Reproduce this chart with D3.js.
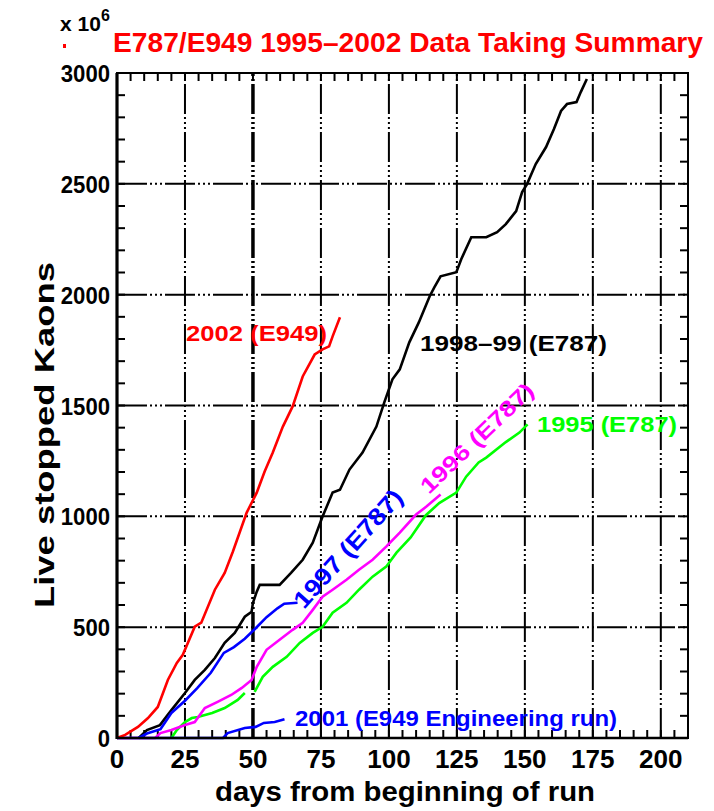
<!DOCTYPE html>
<html>
<head>
<meta charset="utf-8">
<script src="https://cdn.jsdelivr.net/npm/d3@7"></script>
<style>
  body { margin: 0; background: #fff; }
  svg { display: block; }
</style>
</head>
<body>
<svg id="chart" width="714" height="811"></svg>
<script>
// Cumulative live stopped kaons (units of 10^6) against days since the start of each run

const days2002 = [0, 3, 7.7, 11.4, 15, 18.7, 22, 24.2, 28.6, 31, 36, 39.6, 42.6, 47.7, 51.4, 54.3, 57.3, 61, 64.6, 68.3, 72.7, 75.6, 78, 79.3, 82];
const kaons2002 = [0, 14, 50, 90, 140, 262, 339, 375, 502, 520, 669, 745, 840, 1017, 1107, 1202, 1288, 1405, 1496, 1631, 1730, 1753, 1767, 1812, 1898];

const days1998 = [8, 11, 15.8, 20, 25, 28.6, 32.3, 36, 39.6, 43.3, 47, 49.5, 50, 51.4, 52.5, 59.8, 64, 68.3, 72, 75.6, 79.3, 82, 85.5, 90.3, 95.4, 98.3, 101.3, 104, 107.5, 111, 115, 116.7, 119, 124.8, 126.6, 130.3, 135.8, 139.8, 143, 146.8, 149, 150.8, 154, 157.8, 160.7, 163.3, 165.5, 169, 170.6, 172.8];
const kaons1998 = [0, 36, 58, 126, 203, 262, 307, 361, 429, 474, 547, 569, 610, 660, 691, 691, 745, 804, 881, 999, 1107, 1120, 1211, 1288, 1405, 1514, 1618, 1663, 1785, 1875, 1993, 2033, 2083, 2101, 2160, 2259, 2259, 2282, 2318, 2377, 2463, 2499, 2589, 2666, 2747, 2829, 2860, 2869, 2915, 2973];

const days1997 = [8, 11, 16, 20, 25, 29.5, 34.5, 39.3, 43, 47, 51, 55, 59, 61.5, 66.4];
const kaons1997 = [0, 20, 40, 113, 168, 225, 294, 384, 410, 448, 495, 545, 585, 606, 610];

const days1996 = [0, 14, 16, 20, 25, 28.6, 32.3, 37, 42, 45.9, 49.5, 51.4, 55, 59.8, 64.6, 68.3, 72, 75.6, 79.3, 84.4, 89, 94, 99, 104, 110, 113.8, 119];
const kaons1996 = [0, 0, 22, 36, 59, 72, 135, 163, 194, 226, 262, 321, 398, 443, 488, 520, 578, 637, 669, 714, 759, 804, 863, 926, 1008, 1044, 1098];

// null marks the short break in the 1995 record
const days1995 = [20, 22, 25, 27.5, 29.7, 35, 39.6, 44.4, 47, 48.8, 50.6, 53.6, 57.3, 62.4, 67.2, 72, 75.6, 79.3, 84.4, 89, 94, 99, 102.8, 108, 113.6, 118.5, 124.8, 128.4, 133, 135.8, 143, 148, 151];
const kaons1995 = [0, 36, 72, 90, 95, 113, 135, 172, 203, null, 208, 276, 321, 366, 429, 474, 502, 565, 610, 669, 728, 773, 836, 905, 1005, 1060, 1107, 1179, 1243, 1265, 1335, 1378, 1415];

const days2001 = [0, 39, 40.7, 47, 51, 54, 58, 61.6];
const kaons2001 = [0, 0, 22, 45, 50, 68, 72, 85];

const xTicks = [0, 25, 50, 75, 100, 125, 150, 175, 200];
const yTicks = [0, 500, 1000, 1500, 2000, 2500, 3000];

const svg = d3.select("#chart");
const plotL = 117, plotR = 688, plotT = 73, plotB = 738;

const x = d3.scaleLinear().domain([0, 210]).range([plotL, plotR]);
const y = d3.scaleLinear().domain([0, 3000]).range([plotB, plotT]);

const sans = "'Liberation Sans', Arial, Helvetica, sans-serif";

// grid, IDL style dash-dot-dot-dot
const gridDash = "30,3,2,3,2,3,2,3";
const grid = svg.append("g").attr("stroke", "#000").attr("fill", "none");
xTicks.filter(t => t > 0).forEach(t => {
  grid.append("line")
    .attr("x1", x(t)).attr("x2", x(t))
    .attr("y1", plotB).attr("y2", plotT)
    .attr("stroke-width", t === 50 ? 3.5 : 2)
    .attr("stroke-dasharray", gridDash);
});
yTicks.filter(t => t > 0 && t < 3000).forEach(t => {
  grid.append("line")
    .attr("x1", plotL).attr("x2", plotR)
    .attr("y1", y(t)).attr("y2", y(t))
    .attr("stroke-width", 2)
    .attr("stroke-dasharray", gridDash);
});

// minor ticks pointing into the plot on all four sides
const ticks = svg.append("g").attr("stroke", "#000").attr("stroke-width", 2);
d3.range(5, 210, 5).forEach(t => {
  ticks.append("line").attr("x1", x(t)).attr("x2", x(t)).attr("y1", plotB).attr("y2", plotB - 8);
  ticks.append("line").attr("x1", x(t)).attr("x2", x(t)).attr("y1", plotT).attr("y2", plotT + 8);
});
d3.range(100, 3000, 100).forEach(t => {
  ticks.append("line").attr("x1", plotL).attr("x2", plotL + 8).attr("y1", y(t)).attr("y2", y(t));
  ticks.append("line").attr("x1", plotR).attr("x2", plotR - 8).attr("y1", y(t)).attr("y2", y(t));
});

// curves
const line = d3.line()
  .defined(d => d[1] != null)
  .x(d => x(d[0]))
  .y(d => y(d[1]));

const zip = (a, b) => a.map((v, i) => [v, b[i]]);
const series = [
  { days: days1998, vals: kaons1998, color: "#000000" },
  { days: days1995, vals: kaons1995, color: "#00ff00" },
  { days: days1996, vals: kaons1996, color: "#ff00ff" },
  { days: days2001, vals: kaons2001, color: "#0000ff" },
  { days: days1997, vals: kaons1997, color: "#0000ff" },
  { days: days2002, vals: kaons2002, color: "#ff0000" }
];
svg.append("g").selectAll("path")
  .data(series)
  .join("path")
  .attr("d", s => line(zip(s.days, s.vals)))
  .attr("fill", "none")
  .attr("stroke", s => s.color)
  .attr("stroke-width", 2.6)
  .attr("stroke-linejoin", "miter");

// frame
svg.append("rect")
  .attr("x", plotL).attr("y", plotT)
  .attr("width", plotR - plotL).attr("height", plotB - plotT)
  .attr("fill", "none").attr("stroke", "#000").attr("stroke-width", 2);
svg.append("line").attr("x1", plotL).attr("x2", plotL).attr("y1", plotT).attr("y2", plotB + 1)
  .attr("stroke", "#000").attr("stroke-width", 3.2);
svg.append("line").attr("x1", plotL).attr("x2", plotR).attr("y1", plotB).attr("y2", plotB)
  .attr("stroke", "#000").attr("stroke-width", 2.6);

// tick labels
svg.append("g").selectAll("text")
  .data(xTicks)
  .join("text")
  .attr("x", d => x(d))
  .attr("y", 768)
  .attr("text-anchor", "middle")
  .attr("font-family", sans).attr("font-weight", "bold").attr("font-size", 26)
  .attr("textLength", d => String(d).length * 14.5)
  .attr("lengthAdjust", "spacingAndGlyphs")
  .text(d => d);

svg.append("g").selectAll("text")
  .data(yTicks)
  .join("text")
  .attr("x", 110)
  .attr("y", d => y(d) + 9)
  .attr("text-anchor", "end")
  .attr("font-family", sans).attr("font-weight", "bold").attr("font-size", 24)
  .attr("textLength", d => String(d).length * 12.3)
  .attr("lengthAdjust", "spacingAndGlyphs")
  .text(d => d);

// axis titles
svg.append("text")
  .attr("x", 215).attr("y", 801)
  .attr("font-family", sans).attr("font-weight", "bold").attr("font-size", 27)
  .attr("textLength", 380).attr("lengthAdjust", "spacingAndGlyphs")
  .text("days from beginning of run");

svg.append("text")
  .attr("transform", "translate(54,608) rotate(-90)")
  .attr("font-family", sans).attr("font-weight", "bold").attr("font-size", 27)
  .attr("textLength", 346).attr("lengthAdjust", "spacingAndGlyphs")
  .text("Live stopped Kaons");

// scale factor
const sf = svg.append("text")
  .attr("x", 60).attr("y", 31)
  .attr("font-family", sans).attr("font-weight", "bold").attr("font-size", 21);
sf.append("tspan").text("x 10");
sf.append("tspan").attr("dy", -10).attr("font-size", 16).text("6");
svg.append("rect").attr("x", 63).attr("y", 44).attr("width", 3).attr("height", 4).attr("fill", "#ff0000");

// title
svg.append("text")
  .attr("x", 113).attr("y", 52)
  .attr("fill", "#ff0000")
  .attr("font-family", sans).attr("font-weight", "bold").attr("font-size", 28)
  .attr("textLength", 590).attr("lengthAdjust", "spacingAndGlyphs")
  .text("E787/E949 1995\u20132002 Data Taking Summary");

// curve labels
const labels = [
  { text: "2002 (E949)", x: 186, y: 341, len: 141, rot: 0, size: 22, color: "#ff0000" },
  { text: "1998\u201399 (E787)", x: 420, y: 351, len: 187, rot: 0, size: 22, color: "#000000" },
  { text: "1995 (E787)", x: 537, y: 432, len: 140, rot: 0, size: 22, color: "#00ff00" },
  { text: "2001 (E949 Engineering run)", x: 295, y: 726, len: 322, rot: 0, size: 22, color: "#0000ff" },
  { text: "1996 (E787)", x: 429, y: 495, len: 148, rot: -44, size: 22, color: "#ff00ff" },
  { text: "1997 (E787)", x: 304, y: 610, len: 150, rot: -48, size: 24, color: "#0000ff" }
];
svg.append("g").selectAll("text")
  .data(labels)
  .join("text")
  .attr("transform", d => `translate(${d.x},${d.y}) rotate(${d.rot})`)
  .attr("fill", d => d.color)
  .attr("font-family", sans).attr("font-weight", "bold").attr("font-size", d => d.size)
  .attr("textLength", d => d.len).attr("lengthAdjust", "spacingAndGlyphs")
  .text(d => d.text);
</script>
</body>
</html>
